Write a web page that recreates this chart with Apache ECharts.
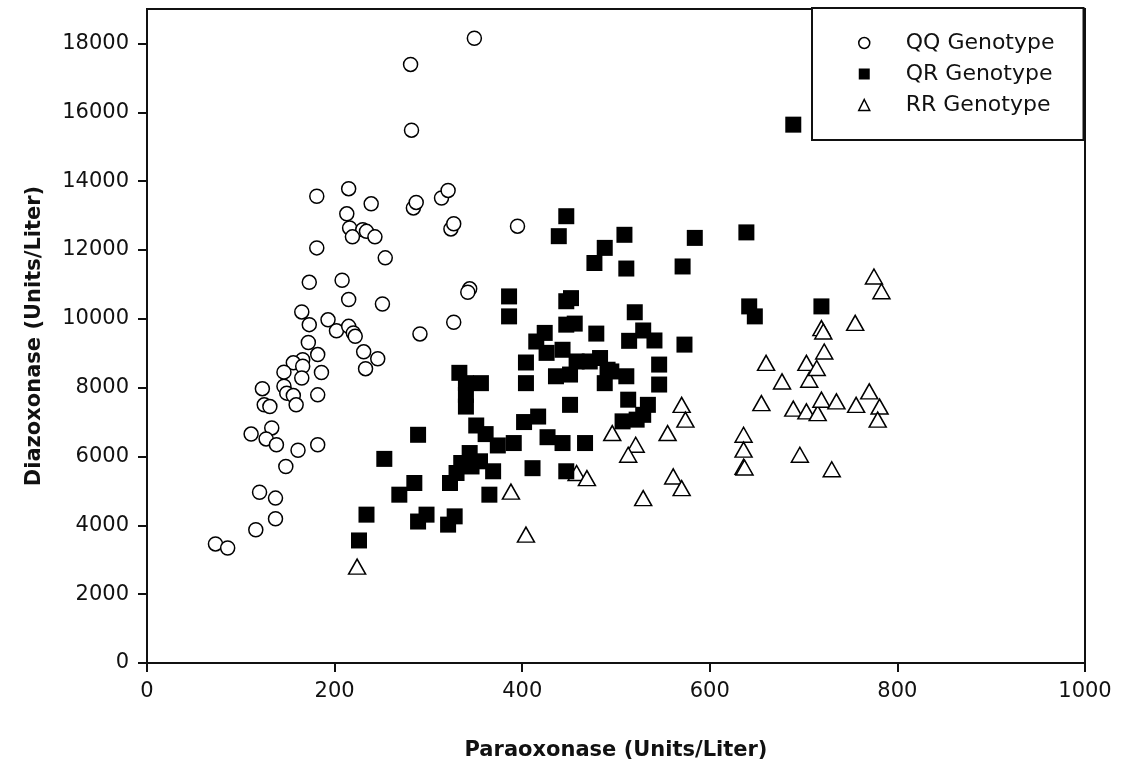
<!DOCTYPE html>
<html>
<head>
<meta charset="utf-8">
<script src="https://cdn.jsdelivr.net/npm/echarts@6/dist/echarts.min.js"></script>
<style>
html,body{margin:0;padding:0;background:#fff;}
#chart{width:1123px;height:770px;}
</style>
</head>
<body>
<div id="chart"></div>
<script>
// Paraoxonase (x) vs Diazoxonase (y), Units/Liter
const seriesNames = ['QQ Genotype', 'QR Genotype', 'RR Genotype'];
const xTicks = [0, 200, 400, 600, 800, 1000];
const yTicks = [0, 2000, 4000, 6000, 8000, 10000, 12000, 14000, 16000, 18000];

const qqPoints = [
  [349, 18150], [281, 17390], [282, 15480], [181, 13560], [215, 13780], [239, 13340],
  [284, 13220], [287, 13380], [213, 13050], [216, 12640], [230, 12590], [234, 12540],
  [243, 12380], [219, 12380], [181, 12060], [254, 11770], [173, 11060], [208, 11120],
  [215, 10560], [251, 10430], [165, 10200], [173, 9830], [193, 9970], [202, 9650],
  [215, 9780], [220, 9590], [222, 9490], [291, 9560], [172, 9310], [182, 8960],
  [231, 9040], [246, 8840], [233, 8550], [166, 8810], [156, 8720], [166, 8620],
  [146, 8450], [186, 8440], [165, 8280], [123, 7970], [146, 8040], [149, 7840],
  [156, 7770], [182, 7790], [125, 7500], [131, 7450], [159, 7500], [111, 6650],
  [133, 6830], [127, 6510], [138, 6340], [161, 6180], [182, 6340], [148, 5710],
  [120, 4960], [137, 4790], [137, 4190], [116, 3870], [73, 3460], [86, 3340],
  [314, 13510], [321, 13730], [324, 12610], [327, 12760], [395, 12690], [344, 10870],
  [342, 10770], [327, 9900]
];

const qrPoints = [
  [689, 15640], [447, 12980], [439, 12400], [509, 12440], [488, 12060], [477, 11620],
  [511, 11460], [571, 11520], [584, 12350], [639, 12510], [386, 10650], [386, 10070],
  [447, 10510], [452, 10600], [520, 10190], [447, 9830], [456, 9860], [479, 9570],
  [424, 9590], [415, 9340], [529, 9660], [514, 9360], [541, 9370], [573, 9250],
  [426, 9010], [443, 9100], [404, 8730], [458, 8760], [472, 8760], [483, 8860],
  [495, 8470], [436, 8330], [451, 8380], [404, 8130], [488, 8130], [451, 7500],
  [333, 8430], [356, 8130], [340, 8130], [340, 7790], [340, 7450], [402, 7000],
  [417, 7160], [351, 6900], [361, 6650], [374, 6320], [391, 6390], [427, 6560],
  [443, 6390], [467, 6390], [344, 6100], [335, 5810], [346, 5710], [355, 5860],
  [369, 5570], [330, 5520], [411, 5660], [447, 5570], [507, 7020], [522, 7070],
  [529, 7210], [513, 7650], [534, 7500], [511, 8330], [546, 8670], [546, 8090],
  [289, 6630], [253, 5930], [323, 5230], [365, 4890], [285, 5230], [269, 4890],
  [298, 4310], [289, 4110], [328, 4260], [321, 4020], [234, 4310], [226, 3560],
  [642, 10360], [648, 10070], [719, 10360], [491, 8520]
];

const rrPoints = [
  [224, 2800], [388, 4980], [404, 3730], [496, 6680], [521, 6340], [513, 6050],
  [555, 6680], [570, 7500], [574, 7070], [458, 5520], [469, 5370], [529, 4790],
  [561, 5420], [570, 5080], [636, 6630], [636, 6200], [636, 5700], [637, 5680],
  [696, 6050], [730, 5630], [660, 8720], [655, 7550], [677, 8180], [706, 8230],
  [703, 8720], [714, 8570], [722, 9050], [719, 9730], [721, 9630], [755, 9880],
  [775, 11230], [783, 10800], [689, 7390], [703, 7310], [715, 7260], [719, 7650],
  [735, 7600], [756, 7500], [770, 7890], [781, 7450], [779, 7070]
];

const font = 'DejaVu Sans';
const chart = echarts.init(document.getElementById('chart'), null, {renderer: 'canvas'});

const option = {
  backgroundColor: '#ffffff',
  animation: false,
  grid: {
    left: 147, right: 38, top: 9, bottom: 107,
    show: true, borderColor: '#111', borderWidth: 2, backgroundColor: 'transparent',
    outerBoundsMode: 'none'
  },
  legend: {
    orient: 'vertical',
    left: 812, top: 8,
    padding: [24, 29, 24, 46],
    itemGap: 9,
    itemWidth: 11, itemHeight: 11,
    backgroundColor: '#fff',
    borderColor: '#111', borderWidth: 2,
    textStyle: {fontFamily: font, fontSize: 22, color: '#111', lineHeight: 22, padding: [0, 0, 0, 31]},
    data: [
      {name: seriesNames[0], icon: 'circle', itemStyle: {color: '#fff', borderColor: '#000', borderWidth: 1.5}},
      {name: seriesNames[1], icon: 'rect', itemStyle: {color: '#000'}},
      {name: seriesNames[2], icon: 'triangle', itemStyle: {color: '#fff', borderColor: '#000', borderWidth: 1.5}}
    ]
  },
  xAxis: {
    type: 'value', min: 0, max: 1000, interval: 200,
    name: 'Paraoxonase (Units/Liter)', nameLocation: 'middle', nameGap: 77,
    nameTextStyle: {fontFamily: font, fontSize: 21, fontWeight: 'bold', color: '#111'},
    axisLine: {show: true, lineStyle: {color: '#111', width: 2}},
    axisTick: {show: true, inside: false, length: 9, lineStyle: {color: '#111', width: 2}, customValues: xTicks},
    axisLabel: {fontFamily: font, fontSize: 21, color: '#111', margin: 18, customValues: xTicks,
      formatter: v => String(v)},
    splitLine: {show: false}
  },
  yAxis: {
    type: 'value', min: 0, max: 19000, interval: 2000,
    name: 'Diazoxonase (Units/Liter)', nameLocation: 'middle', nameGap: 102,
    nameTextStyle: {fontFamily: font, fontSize: 21, fontWeight: 'bold', color: '#111'},
    axisLine: {show: true, lineStyle: {color: '#111', width: 2}},
    axisTick: {show: true, inside: false, length: 9, lineStyle: {color: '#111', width: 2}, customValues: yTicks},
    axisLabel: {fontFamily: font, fontSize: 21, color: '#111', margin: 18, customValues: yTicks,
      formatter: v => (yTicks.indexOf(v) >= 0 ? String(v) : '')},
    splitLine: {show: false}
  },
  series: [
    {
      name: seriesNames[0], type: 'scatter', data: qqPoints, symbol: 'circle', symbolSize: 14, z: 2,
      itemStyle: {color: '#fff', borderColor: '#000', borderWidth: 1.5, opacity: 1}
    },
    {
      name: seriesNames[1], type: 'scatter', data: qrPoints, symbol: 'rect', symbolSize: 16, z: 4,
      itemStyle: {color: '#000', opacity: 1}
    },
    {
      name: seriesNames[2], type: 'scatter', data: rrPoints, symbol: 'triangle', symbolSize: [17, 15], z: 3,
      itemStyle: {color: '#fff', borderColor: '#000', borderWidth: 1.5, opacity: 1}
    }
  ]
};
chart.setOption(option);
</script>
</body>
</html>
